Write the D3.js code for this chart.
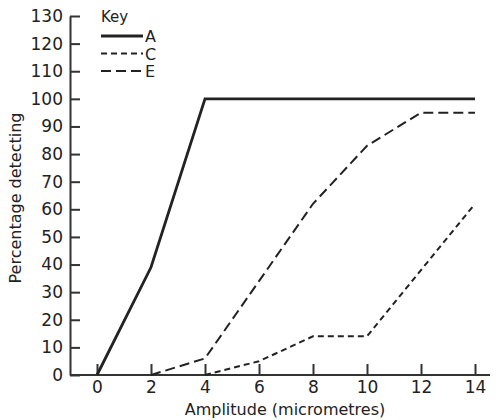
<!DOCTYPE html>
<html>
<head>
<meta charset="utf-8">
<script src="https://cdn.jsdelivr.net/npm/d3@7"></script>
<style>
  body { margin: 0; background: #fff; }
  svg text { font-family: "DejaVu Sans", sans-serif; fill: #222; }
</style>
</head>
<body>
<svg id="chart" width="496" height="420"></svg>
<script>
// amplitude values (micrometres)
var amplitude = [0, 2, 4, 6, 8, 10, 12, 14]
var xTicks = [0, 2, 4, 6, 8, 10, 12, 14]
var yTicks = [0, 10, 20, 30, 40, 50, 60, 70, 80, 90, 100, 110, 120, 130]

// percentage detecting, null where the curve has not started
var seriesA = [0, 39, 100, 100, 100, 100, 100, 100]
var seriesC = [null, null, 0, 5, 14, 14, 38, 62]
var seriesE = [null, 0, 6, 34, 62, 83, 95, 95]

var keyNames = ["A", "C", "E"]

var svg = d3.select("#chart")

var x = d3.scaleLinear().domain([0, 14]).range([97, 475])
var y = d3.scaleLinear().domain([0, 130]).range([375, 16])

function translate(x, y) {
    return "translate(" + x + "," + y + ")"
}

// y axis, ticks pointing into the plot
var yAxis = svg.append("g")
    .attr("transform", translate(70, 0))
    .call(d3.axisLeft(y).tickValues(yTicks).tickSizeInner(-10).tickSizeOuter(0).tickPadding(7))
yAxis.select(".domain").attr("stroke", "#333").attr("stroke-width", 2)
yAxis.selectAll(".tick line").attr("stroke", "#333").attr("stroke-width", 2)
yAxis.selectAll("text").attr("font-size", 17).attr("fill", "#222")

// x axis, ticks pointing up
var xAxis = svg.append("g")
    .attr("transform", translate(0, 375))
    .call(d3.axisBottom(x).tickValues(xTicks).tickSizeInner(-11).tickSizeOuter(0).tickPadding(6))
xAxis.select(".domain").remove()
xAxis.append("line")
    .attr("x1", 70).attr("x2", 490)
    .attr("stroke", "#333").attr("stroke-width", 2)
xAxis.selectAll(".tick line").attr("stroke", "#333").attr("stroke-width", 2)
xAxis.selectAll("text").attr("font-size", 17).attr("fill", "#222")

// axis titles
svg.append("text")
    .attr("x", 285).attr("y", 415)
    .attr("text-anchor", "middle")
    .attr("font-size", 16)
    .text("Amplitude (micrometres)")

svg.append("text")
    .attr("transform", translate(21, 198) + " rotate(-90)")
    .attr("text-anchor", "middle")
    .attr("font-size", 16)
    .text("Percentage detecting")

// lines
var line = d3.line()
    .defined(function (d) { return d[1] !== null })
    .x(function (d) { return x(d[0]) })
    .y(function (d) { return y(d[1]) })

var styles = {
    "A": { dash: null, width: 2.8 },
    "C": { dash: "6,4", width: 2 },
    "E": { dash: "10,5", width: 2 }
}
var allSeries = { "A": seriesA, "C": seriesC, "E": seriesE }

keyNames.forEach(function (name) {
    var pts = amplitude.map(function (a, i) { return [a, allSeries[name][i]] })
    svg.append("path")
        .datum(pts)
        .attr("d", line)
        .attr("fill", "none")
        .attr("stroke", "#222")
        .attr("stroke-width", styles[name].width)
        .attr("stroke-dasharray", styles[name].dash)
})

// key
var key = svg.append("g").attr("transform", translate(101, 0))
key.append("text").attr("x", 0).attr("y", 22).attr("font-size", 15).text("Key")
keyNames.forEach(function (name, i) {
    var ly = 36 + i * 17.5
    key.append("line")
        .attr("x1", 0).attr("x2", 42)
        .attr("y1", ly).attr("y2", ly)
        .attr("stroke", "#222")
        .attr("stroke-width", styles[name].width)
        .attr("stroke-dasharray", styles[name].dash)
    key.append("text")
        .attr("x", 44).attr("y", ly + 6)
        .attr("font-size", 16)
        .text(name)
})
</script>
</body>
</html>
